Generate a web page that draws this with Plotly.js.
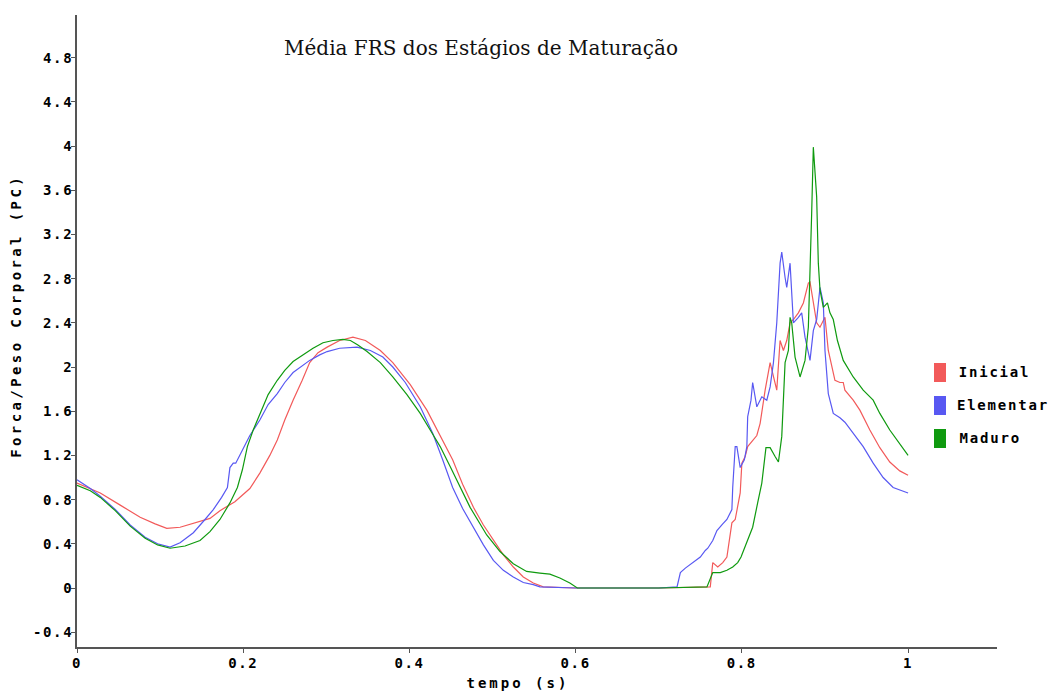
<!DOCTYPE html>
<html>
<head>
<meta charset="utf-8">
<script src="https://cdn.plot.ly/plotly-3.0.1.min.js"></script>
<style>
  html, body { margin: 0; padding: 0; background: #ffffff; }
  #chart { width: 1057px; height: 692px; }
  .xtick text, .ytick text { letter-spacing: 1.6px; }
  .annotation-text.mono { letter-spacing: 1.8px; }
  .annotation-text.ytitle { letter-spacing: 3.4px; }
  .annotation-text.xtitle { letter-spacing: 3px; }
</style>
</head>
<body>
<div id="chart"></div>
<script>
// ---- data ----
const tempoInicial = [0,0.028,0.052,0.076,0.094,0.108,0.124,0.142,0.160,0.172,
  0.190,0.208,0.220,0.232,0.241,0.250,0.260,0.271,0.280,0.290,
  0.301,0.316,0.332,0.347,0.365,0.380,0.401,0.421,0.437,0.452,
  0.464,0.477,0.489,0.501,0.513,0.525,0.537,0.549,0.561,0.60,
  0.65,0.70,0.762,0.765,0.771,0.777,0.782,0.788,0.792,0.795,
  0.798,0.800,0.804,0.807,0.813,0.818,0.822,0.828,0.834,0.838,
  0.842,0.846,0.850,0.854,0.858,0.862,0.868,0.874,0.880,0.882,
  0.886,0.890,0.894,0.900,0.904,0.912,0.918,0.922,0.924,0.934,
  0.942,0.954,0.966,0.978,0.990,1.000];
const forcaInicial = [0.95,0.86,0.75,0.64,0.58,0.54,0.55,0.59,0.63,0.70,
  0.78,0.90,1.04,1.20,1.34,1.52,1.70,1.88,2.04,2.13,
  2.18,2.24,2.27,2.24,2.15,2.04,1.84,1.61,1.38,1.16,
  0.94,0.73,0.57,0.43,0.30,0.19,0.10,0.045,0.01,0,
  0,0,0.01,0.23,0.19,0.23,0.28,0.59,0.62,0.75,
  0.86,1.13,1.19,1.28,1.34,1.38,1.49,1.79,2.04,1.91,
  1.79,2.24,2.15,2.24,2.40,2.43,2.49,2.58,2.76,2.77,
  2.58,2.40,2.36,2.45,2.15,1.88,1.86,1.86,1.79,1.70,
  1.61,1.43,1.27,1.14,1.06,1.02];

const tempoElementar = [0,0.016,0.028,0.046,0.064,0.082,0.097,0.112,0.124,0.140,
  0.154,0.164,0.174,0.181,0.184,0.188,0.191,0.196,0.208,0.220,
  0.230,0.241,0.250,0.260,0.271,0.280,0.292,0.301,0.316,0.337,
  0.353,0.368,0.380,0.395,0.413,0.428,0.440,0.452,0.464,0.477,
  0.489,0.501,0.513,0.525,0.537,0.549,0.557,0.60,0.65,0.70,
  0.722,0.726,0.732,0.741,0.750,0.756,0.759,0.765,0.770,0.777,
  0.782,0.788,0.789,0.792,0.794,0.798,0.803,0.806,0.807,0.811,
  0.813,0.818,0.824,0.830,0.834,0.838,0.842,0.846,0.848,0.852,
  0.854,0.858,0.860,0.862,0.868,0.872,0.876,0.882,0.886,0.890,
  0.894,0.898,0.900,0.904,0.910,0.918,0.924,0.934,0.946,0.958,
  0.970,0.982,1.000];
const forcaElementar = [0.98,0.90,0.83,0.71,0.57,0.46,0.40,0.37,0.41,0.50,
  0.62,0.71,0.82,0.91,1.09,1.13,1.13,1.20,1.38,1.52,
  1.66,1.76,1.86,1.95,2.01,2.06,2.11,2.14,2.17,2.18,
  2.15,2.09,2.00,1.86,1.64,1.40,1.16,0.91,0.72,0.55,
  0.39,0.25,0.16,0.10,0.05,0.03,0.01,0,0,0,
  0.01,0.14,0.18,0.23,0.28,0.34,0.36,0.43,0.52,0.58,
  0.62,0.71,0.91,1.28,1.28,1.09,1.16,1.28,1.55,1.70,
  1.86,1.64,1.73,1.70,1.82,2.04,2.40,2.94,3.04,2.81,
  2.72,2.94,2.72,2.40,2.45,2.49,2.27,2.06,2.33,2.43,
  2.72,2.58,2.15,1.76,1.58,1.54,1.50,1.40,1.28,1.13,
  1.00,0.91,0.86];

const tempoMaduro = [0,0.016,0.028,0.046,0.064,0.082,0.097,0.112,0.130,0.148,
  0.160,0.172,0.184,0.193,0.199,0.205,0.212,0.220,0.230,0.241,
  0.250,0.260,0.272,0.284,0.296,0.308,0.320,0.329,0.338,0.349,
  0.365,0.380,0.397,0.413,0.425,0.437,0.449,0.461,0.473,0.493,
  0.509,0.525,0.541,0.557,0.569,0.581,0.593,0.602,0.65,0.70,
  0.758,0.762,0.765,0.774,0.782,0.789,0.795,0.799,0.806,0.813,
  0.819,0.824,0.829,0.834,0.840,0.844,0.848,0.850,0.852,0.856,
  0.858,0.860,0.864,0.870,0.876,0.880,0.882,0.884,0.886,0.888,
  0.890,0.892,0.894,0.898,0.903,0.906,0.910,0.915,0.922,0.934,
  0.946,0.958,0.966,0.978,0.990,1.000];
const forcaMaduro = [0.93,0.88,0.82,0.70,0.56,0.45,0.39,0.36,0.38,0.43,
  0.51,0.62,0.77,0.91,1.07,1.28,1.43,1.58,1.75,1.88,
  1.97,2.05,2.11,2.17,2.22,2.24,2.25,2.24,2.20,2.14,
  2.04,1.91,1.75,1.58,1.43,1.28,1.10,0.91,0.73,0.48,
  0.33,0.22,0.15,0.135,0.125,0.09,0.045,0,0,0,
  0.01,0.09,0.14,0.14,0.16,0.19,0.23,0.28,0.41,0.55,
  0.77,0.95,1.27,1.27,1.19,1.14,1.37,1.79,2.04,2.15,
  2.45,2.40,2.09,1.91,2.06,2.36,2.79,3.39,3.99,3.78,
  3.54,2.94,2.70,2.54,2.58,2.49,2.43,2.24,2.06,1.91,
  1.79,1.70,1.58,1.43,1.31,1.20];

const seriesNames = ["Inicial", "Elementar", "Maduro"];
const seriesColors = ["#f25a5a", "#5858f2", "#0f9a0f"];
const yTickVals = [-0.4,0,0.4,0.8,1.2,1.6,2,2.4,2.8,3.2,3.6,4,4.4,4.8];
const yTickText = ["-0.4","0","0.4","0.8","1.2","1.6","2","2.4","2.8","3.2","3.6","4","4.4","4.8"];
const xTickVals = [0,0.2,0.4,0.6,0.8,1];
const xTickText = ["0","0.2","0.4","0.6","0.8","1"];
const chartTitle = "Média FRS dos Estágios de Maturação";
const xTitle = "tempo (s)";
const yTitle = "Forca/Peso Corporal (PC)";

// ---- chart ----
const xs = [tempoInicial, tempoElementar, tempoMaduro];
const ys = [forcaInicial, forcaElementar, forcaMaduro];
const traces = seriesNames.map((n, i) => ({
  type: "scatter", mode: "lines", name: n,
  x: xs[i], y: ys[i],
  line: { color: seriesColors[i], width: 1.2, shape: "linear" },
  showlegend: false, hoverinfo: "x+y+name"
}));

const monoFont = { family: "DejaVu Sans Mono", size: 14, color: "#000", weight: 700 };

// custom legend: colour squares + labels (paper coordinates)
const L = 77, R = 997, T = 15, B = 647;
const px2x = p => (p - L) / (R - L);
const py2y = p => (B - p) / (B - T);
const legendRows = [372, 405, 438];
const shapes = seriesNames.map((n, i) => ({
  type: "rect", xref: "paper", yref: "paper",
  x0: px2x(934), x1: px2x(946),
  y0: py2y(legendRows[i] + 10), y1: py2y(legendRows[i] - 9),
  fillcolor: seriesColors[i], line: { width: 0 }
}));
const annotations = seriesNames.map((n, i) => ({
  xref: "paper", yref: "paper", x: px2x(963), y: py2y(legendRows[i]),
  xanchor: "left", yanchor: "middle", text: n, showarrow: false,
  font: monoFont
}));
annotations.push({
  xref: "paper", yref: "paper", x: px2x(16), y: py2y(316),
  xanchor: "center", yanchor: "middle", textangle: -90, text: yTitle,
  showarrow: false, font: monoFont
});
annotations.push({
  xref: "paper", yref: "paper", x: px2x(518), y: py2y(683),
  xanchor: "center", yanchor: "middle", text: xTitle,
  showarrow: false, font: monoFont
});

const axisCommon = {
  showline: true, linecolor: "#555", linewidth: 2, mirror: false,
  ticks: "outside", ticklen: 4, tickwidth: 1, tickcolor: "#555",
  showgrid: false, zeroline: false, tickfont: monoFont, fixedrange: true
};

const layout = {
  width: 1057, height: 692,
  margin: { l: L, r: 1057 - R, t: T, b: 692 - B, pad: 0 },
  paper_bgcolor: "#ffffff", plot_bgcolor: "#ffffff",
  title: {
    text: chartTitle, xref: "paper", x: px2x(481), xanchor: "center",
    yref: "container", y: 1 - 48 / 692, yanchor: "middle",
    font: { family: "DejaVu Serif", size: 20, color: "#111" }
  },
  xaxis: Object.assign({}, axisCommon, {
    range: [0, 1.107], tickvals: xTickVals, ticktext: xTickText,
    ticklabelstandoff: -2
  }),
  yaxis: Object.assign({}, axisCommon, {
    range: [-0.534, 5.186], tickvals: yTickVals, ticktext: yTickText,
    ticklabelstandoff: -5
  }),
  shapes: shapes,
  annotations: annotations,
  showlegend: false
};

Plotly.newPlot("chart", traces, layout, { displayModeBar: false, staticPlot: true }).then(() => {
  const texts = document.querySelectorAll(".annotation-text");
  texts.forEach((t, i) => {
    if (i < 3) t.classList.add("mono");
    else if (i === 3) t.classList.add("ytitle");
    else t.classList.add("xtitle");
  });
});
</script>
</body>
</html>
